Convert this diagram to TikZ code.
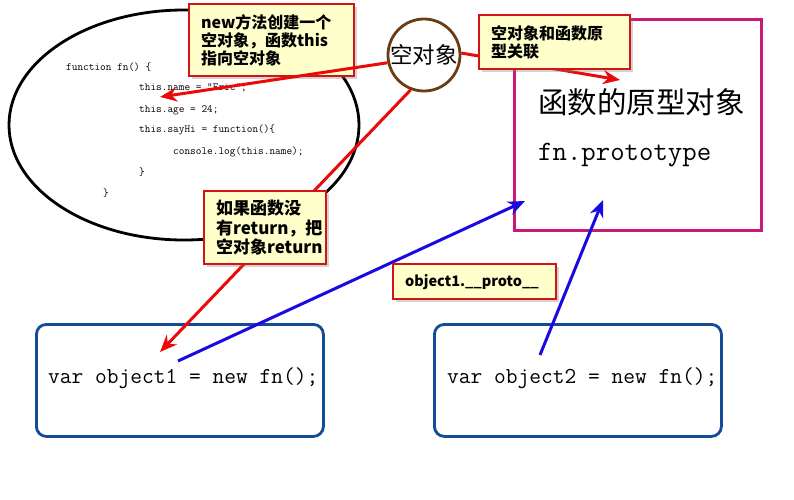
\documentclass[tikz,border=0pt]{standalone}
\usepackage{fontspec}
\usepackage{tikz}
\usetikzlibrary{arrows.meta, shapes.geometric, shadows}
\newfontfamily\cjk{Noto Sans CJK SC}
\definecolor{noteyellow}{RGB}{255,255,204}
\definecolor{notered}{RGB}{210,20,20}
\definecolor{protopink}{RGB}{200,25,120}
\definecolor{boxblue}{RGB}{20,75,150}
\definecolor{circbrown}{RGB}{105,60,20}
\definecolor{linkred}{RGB}{235,10,10}
\definecolor{linkblue}{RGB}{25,10,225}

\tikzset{
  codeline/.style={anchor=west, inner sep=0pt,
    font=\ttfamily\fontsize{11}{12}\selectfont},
  note/.style={draw=notered, line width=2.2pt, fill=noteyellow,
    drop shadow={shadow xshift=3pt, shadow yshift=-3pt, opacity=0.35},
    align=left, inner xsep=12pt, inner ysep=0pt, anchor=north west},
  redlink/.style={draw=linkred, line width=3pt,
    -{Stealth[length=17pt, width=14pt]}},
  bluelink/.style={draw=linkblue, line width=3pt,
    -{Stealth[length=17pt, width=14pt]}},
  objbox/.style={draw=boxblue, line width=2.8pt, rounded corners=10pt,
    minimum width=287pt, minimum height=112pt, anchor=north west},
  objtext/.style={anchor=west, inner sep=0pt,
    font=\ttfamily\fontsize{22.8}{26}\selectfont}
}

\begin{document}
\begin{tikzpicture}[x=1pt, y=-1pt]
  \useasboundingbox (0,0) rectangle (794,499);

  % the constructor
  \node[draw, ellipse, line width=2.8pt, minimum width=350pt,
        minimum height=230pt] (fnbody) at (184,125) {};
  \node[codeline] (codeA) at (66,67) {function fn() \{};
  \node[codeline] (codeB) at (139,88) {this.name = “Eric”;};
  \node[codeline] (codeC) at (139,110) {this.age = 24;};
  \node[codeline] (codeD) at (139,130) {this.sayHi = function()\{};
  \node[codeline] (codeE) at (173,152) {console.log(this.name);};
  \node[codeline] (codeF) at (139,172) {\}};
  \node[codeline] (codeG) at (103,193) {\}};

  % prototype object
  \node[draw=protopink, line width=3pt, minimum width=247pt,
        minimum height=211pt, anchor=north west] (protobox) at (513,18) {};
  \node[anchor=west, inner sep=0pt,
        font=\cjk\fontsize{29.5}{30}\selectfont] (protoname) at (538,102)
    {函数的原型对象};
  \node[anchor=west, inner sep=0pt,
        font=\ttfamily\fontsize{28}{30}\selectfont] (protofn) at (538,155)
    {fn.prototype};

  % instances
  \node[objtext] (objAtext) at (48,378) {var object1 = new fn();};
  \node[objbox] (objA) at (35,323) {};
  \node[objtext] (objBtext) at (447,378) {var object2 = new fn();};
  \node[objbox] (objB) at (433,323) {};

  \node[circle, draw=circbrown, line width=2.8pt, minimum size=72pt,
        inner sep=0pt, font=\cjk\fontsize{22.5}{24}\selectfont]
    (emptyobj) at (424,55) {空对象};

  \node[note, text width=141pt, minimum height=72pt,
        font=\cjk\bfseries\fontsize{16}{18}\selectfont] (noteNew) at (188,3)
    {new方法创建一个\\空对象，函数this\\指向空对象};

  \coordinate (thisname) at (160,97);
  \coordinate (prototop) at (620,80);
  \coordinate (objAin) at (160,352);
  \coordinate (objAout) at (178,361);
  \coordinate (protoleft) at (525,201);
  \coordinate (objBout) at (540,355);
  \coordinate (protobottom) at (603,200);

  \draw[redlink] (emptyobj.192) -- (thisname);
  \draw[redlink] (emptyobj.3) -- (prototop);
  \draw[redlink] (emptyobj.249) -- (objAin);
  \draw[bluelink] (objAout) -- (protoleft);
  \draw[bluelink] (objBout) -- (protobottom);

  \node[note, text width=127pt, minimum height=54pt,
        font=\cjk\bfseries\fontsize{16}{18}\selectfont] (noteLink) at (478,14)
    {空对象和函数原\\型关联};
  \node[note, text width=98pt, minimum height=73pt,
        font=\cjk\bfseries\fontsize{17}{19.5}\selectfont] (noteReturn)
    at (203,190) {如果函数没\\有return，把\\空对象return};
  \node[note, text width=139pt, minimum height=35pt,
        font=\cjk\bfseries\fontsize{14.5}{16}\selectfont] (noteProto)
    at (392,263) {object1.\_\_proto\_\_};
\end{tikzpicture}
\end{document}
